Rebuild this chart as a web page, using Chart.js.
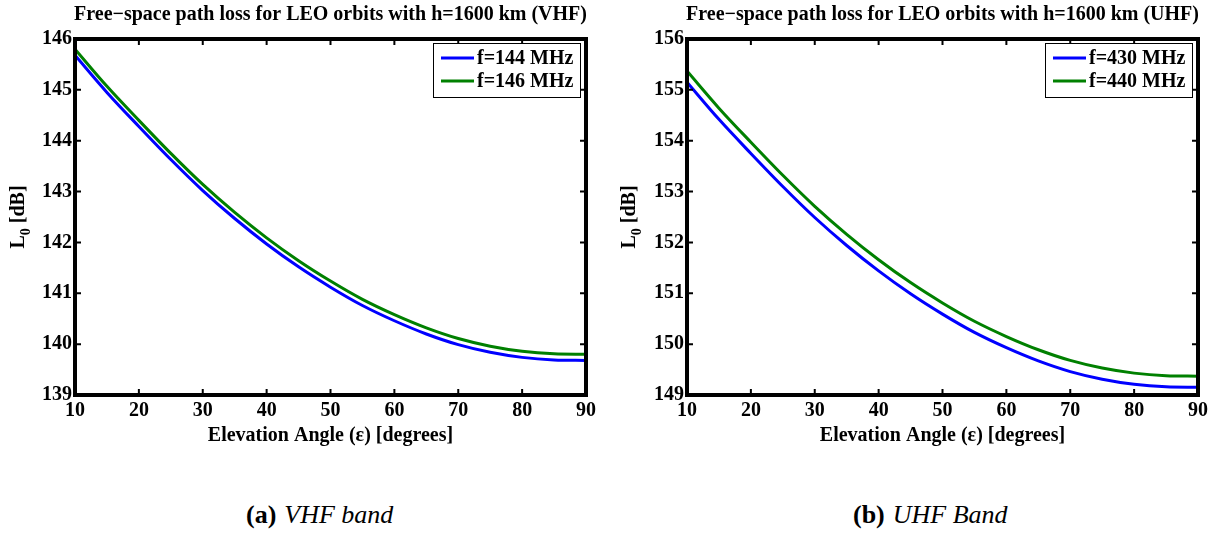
<!DOCTYPE html>
<html>
<head>
<meta charset="utf-8">
<script src="https://cdn.jsdelivr.net/npm/chart.js@4.4.1/dist/chart.umd.min.js"></script>
<style>
  body { margin: 0; background: #fff; width: 1214px; height: 545px; position: relative; overflow: hidden; }
  .panel { position: absolute; top: 0; width: 607px; height: 460px; }
  .caption { position: absolute; top: 500px; font-family: "Liberation Serif", serif; font-size: 26px; color: #000; }
  .caption b { font-weight: bold; }
  .caption i { margin-left: 8px; }
</style>
</head>
<body>
<div class="panel" style="left:0"><canvas id="vhfChart" width="607" height="460"></canvas></div>
<div class="panel" style="left:607px"><canvas id="uhfChart" width="607" height="460"></canvas></div>
<div class="caption" style="left:246px"><b>(a)</b><i>VHF band</i></div>
<div class="caption" style="left:853px"><b>(b)</b><i>UHF Band</i></div>

<script>
const ANGLES = [10, 15, 20, 25, 30, 35, 40, 45, 50, 55, 60, 65, 70, 75, 80, 85, 90];

const LOSS_144 = [145.68, 144.95, 144.28, 143.63, 143.02, 142.47, 141.97, 141.52, 141.12,
                  140.76, 140.46, 140.20, 139.99, 139.84, 139.74, 139.69, 139.68];
const LOSS_146 = [145.80, 145.07, 144.40, 143.75, 143.14, 142.59, 142.09, 141.64, 141.24,
                  140.88, 140.58, 140.32, 140.11, 139.96, 139.86, 139.81, 139.80];

const LOSS_430 = [155.15, 154.42, 153.75, 153.10, 152.49, 151.94, 151.44, 150.99, 150.59,
                  150.23, 149.93, 149.67, 149.46, 149.31, 149.21, 149.16, 149.15];
const LOSS_440 = [155.37, 154.64, 153.97, 153.32, 152.71, 152.16, 151.66, 151.21, 150.81,
                  150.45, 150.15, 149.89, 149.68, 149.53, 149.43, 149.38, 149.37];

const VHF_LABELS = ['f=144 MHz', 'f=146 MHz'];
const UHF_LABELS = ['f=430 MHz', 'f=440 MHz'];
const X_TICKS = [10, 90, 10];      // min, max, step
const VHF_Y_TICKS = [139, 146, 1];
const UHF_Y_TICKS = [149, 156, 1];

const FONT = '"Liberation Serif", "Times New Roman", serif';
const BLUE = '#0000ff';
const GREEN = '#008000';


function toPoints(values) {
    return values.map((v, i) => ({ x: ANGLES[i], y: v }));
}


// frame, inward ticks, titles and the boxed legend, drawn on top of the plot
const matlabLook = {
    id: 'matlabLook',
    afterDraw(chart, args, opts) {
        const ctx = chart.ctx;
        const a = chart.chartArea;
        const xs = chart.scales.x;
        const ys = chart.scales.y;
        ctx.save();

        // ticks pointing into the plot
        ctx.strokeStyle = '#000';
        ctx.lineWidth = 2;
        ctx.beginPath();
        xs.ticks.forEach(t => {
            const px = xs.getPixelForValue(t.value);
            ctx.moveTo(px, a.bottom); ctx.lineTo(px, a.bottom - 6);
            ctx.moveTo(px, a.top); ctx.lineTo(px, a.top + 6);
        });
        ys.ticks.forEach(t => {
            const py = ys.getPixelForValue(t.value);
            ctx.moveTo(a.left, py); ctx.lineTo(a.left + 6, py);
            ctx.moveTo(a.right, py); ctx.lineTo(a.right - 6, py);
        });
        ctx.stroke();

        ctx.lineWidth = 4;
        ctx.strokeRect(a.left, a.top, a.right - a.left, a.bottom - a.top);

        // titles
        ctx.fillStyle = '#000';
        ctx.textAlign = 'center';
        ctx.textBaseline = 'middle';
        ctx.font = 'bold 20px ' + FONT;
        ctx.fillText(opts.title, (a.left + a.right) / 2, 15);
        ctx.fillText('Elevation Angle (\u03b5) [degrees]', (a.left + a.right) / 2, 436);

        // y label L0 [dB] with subscript
        ctx.translate(opts.yLabelX, (a.top + a.bottom) / 2);
        ctx.rotate(-Math.PI / 2);
        ctx.textAlign = 'left';
        const wL = ctx.measureText('L').width;
        ctx.font = 'bold 14px ' + FONT;
        const w0 = ctx.measureText('0').width;
        ctx.font = 'bold 20px ' + FONT;
        const wRest = ctx.measureText(' [dB]').width;
        let x0 = -(wL + w0 + wRest) / 2;
        ctx.fillText('L', x0, 0);
        ctx.font = 'bold 14px ' + FONT;
        ctx.fillText('0', x0 + wL, 7);
        ctx.font = 'bold 20px ' + FONT;
        ctx.fillText(' [dB]', x0 + wL + w0, 0);
        ctx.setTransform(1, 0, 0, 1, 0, 0);

        // legend box in the upper right corner
        const boxW = 147, boxH = 54;
        const bx = a.right - 6 - boxW, by = a.top + 4;
        ctx.fillStyle = '#fff';
        ctx.fillRect(bx, by, boxW, boxH);
        ctx.lineWidth = 1;
        ctx.strokeStyle = '#000';
        ctx.strokeRect(bx + 0.5, by + 0.5, boxW, boxH);
        ctx.font = 'bold 20px ' + FONT;
        ctx.textAlign = 'left';
        chart.data.datasets.forEach((ds, i) => {
            const ly = by + 15 + i * 23;
            ctx.strokeStyle = ds.borderColor;
            ctx.lineWidth = 3;
            ctx.beginPath();
            ctx.moveTo(bx + 8, ly);
            ctx.lineTo(bx + 41, ly);
            ctx.stroke();
            ctx.fillStyle = '#000';
            ctx.fillText(ds.label, bx + 44, ly + 1);
        });
        ctx.restore();
    }
};


function drawChart(canvasId, labels, seriesA, seriesB, yTicks, title, axisWidth, yLabelX) {
    const ctx = document.getElementById(canvasId).getContext('2d');
    return new Chart(ctx, {
        type: 'line',
        data: {
            datasets: [{
                label: labels[0],
                data: toPoints(seriesA),
                borderColor: BLUE,
                borderWidth: 3,
                pointRadius: 0,
                cubicInterpolationMode: 'monotone'
            }, {
                label: labels[1],
                data: toPoints(seriesB),
                borderColor: GREEN,
                borderWidth: 3,
                pointRadius: 0,
                cubicInterpolationMode: 'monotone'
            }]
        },
        options: {
            responsive: false,
            animation: false,
            layout: { padding: { top: 39, right: 607 - 511 - axisWidth, bottom: 0, left: 0 } },
            plugins: {
                legend: { display: false },
                tooltip: { enabled: false },
                matlabLook: { title: title, yLabelX: yLabelX }
            },
            scales: {
                x: {
                    type: 'linear',
                    min: X_TICKS[0],
                    max: X_TICKS[1],
                    grid: { display: false, drawTicks: false },
                    border: { display: false },
                    ticks: {
                        stepSize: X_TICKS[2],
                        padding: 4,
                        color: '#000',
                        font: { family: FONT, size: 20, weight: 'bold' },
                        maxRotation: 0
                    },
                    afterFit: scale => { scale.height = 65; }
                },
                y: {
                    min: yTicks[0],
                    max: yTicks[1],
                    grid: { display: false, drawTicks: false },
                    border: { display: false },
                    ticks: {
                        stepSize: yTicks[2],
                        padding: 3,
                        color: '#000',
                        font: { family: FONT, size: 20, weight: 'bold' }
                    },
                    afterFit: scale => { scale.width = axisWidth; }
                }
            }
        },
        plugins: [matlabLook]
    });
}


drawChart('vhfChart', VHF_LABELS, LOSS_144, LOSS_146, VHF_Y_TICKS,
    'Free\u2212space path loss for LEO orbits with h=1600 km (VHF)', 75, 19);
drawChart('uhfChart', UHF_LABELS, LOSS_430, LOSS_440, UHF_Y_TICKS,
    'Free\u2212space path loss for LEO orbits with h=1600 km (UHF)', 80, 23);
</script>
</body>
</html>
